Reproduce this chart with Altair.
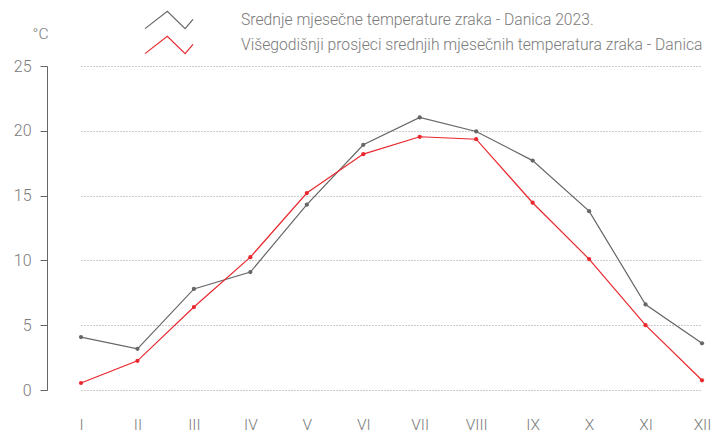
import altair as alt
import pandas as pd

months = ["I", "II", "III", "IV", "V", "VI", "VII", "VIII", "IX", "X", "XI", "XII"]
series_2023 = "Srednje mjesečne temperature zraka - Danica 2023."
series_avg = "Višegodišnji prosjeci srednjih mjesečnih temperatura zraka - Danica"
values_2023 = [4.08, 3.18, 7.8, 9.1, 14.3, 18.92, 21.03, 19.95, 17.7, 13.8, 6.6, 3.6]
values_avg = [0.54, 2.25, 6.4, 10.25, 15.2, 18.2, 19.54, 19.35, 14.45, 10.1, 5.0, 0.75]
y_ticks = [0, 5, 10, 15, 20, 25]

rows = []
for m, v in zip(months, values_2023):
    rows.append({"mjesec": m, "serija": series_2023, "temp": v})
for m, v in zip(months, values_avg):
    rows.append({"mjesec": m, "serija": series_avg, "temp": v})
df = pd.DataFrame(rows)

FONT = "Roboto"
TXT = "#7a7a7a"
GRAY = "#666666"
RED = "#e8282e"

x = alt.X("mjesec:N", sort=months, scale=alt.Scale(type="point", range=[25, 646], padding=0),
          axis=alt.Axis(title=None, labelAngle=0, ticks=False, domain=False, grid=False,
                        labelPadding=27, labelFontSize=15.5, labelColor=TXT,
                        labelFont=FONT, labelFontWeight=300))
y = alt.Y("temp:Q", scale=alt.Scale(domain=[0, 25], nice=False, zero=False),
          axis=alt.Axis(values=y_ticks, title="°C", titleAngle=0, titleAlign="center",
                        titleBaseline="middle", titleX=-7, titleY=-33,
                        titleFontSize=15.5, titleFont=FONT, titleFontWeight=300, titleColor=TXT,
                        offset=9, tickSize=7, tickColor=GRAY, domainColor=GRAY,
                        labelPadding=9, labelFontSize=16, labelColor=TXT, labelFont=FONT,
                        labelFontWeight=300,
                        grid=True, gridDash=[1, 2], gridColor="#999999", gridWidth=1))
scale = alt.Scale(domain=[series_2023, series_avg], range=[GRAY, RED])

lines = alt.Chart(df).mark_line(strokeWidth=1.2).encode(
    x=x, y=y,
    color=alt.Color("serija:N", sort=[series_2023, series_avg], scale=scale,
                    legend=alt.Legend(
                        title=None, orient="none", legendX=100, legendY=-59,
                        symbolType="M-2,0.72L-0.14,-0.72L1.34,0.72L2,-0.06",
                        symbolSize=576, symbolStrokeWidth=1.2, symbolFillColor="transparent",
                        labelOffset=59, labelFontSize=15.7, labelColor=TXT, labelFont=FONT,
                        labelFontWeight=300, labelLimit=600, rowPadding=0, padding=0)),
)
points = alt.Chart(df).mark_circle(size=18, opacity=1).encode(
    x=x, y=y,
    fill=alt.Fill("serija:N", scale=scale, legend=None),
)

chart = alt.layer(lines, points).resolve_scale(fill="independent").properties(
    width=656, height=324,
    autosize=alt.AutoSizeParams(type="none"),
    padding={"left": 48, "top": 58, "right": 0, "bottom": 42},
).configure_view(stroke=None)

chart.save("out.html", embed_options={"renderer": "svg", "actions": False})
